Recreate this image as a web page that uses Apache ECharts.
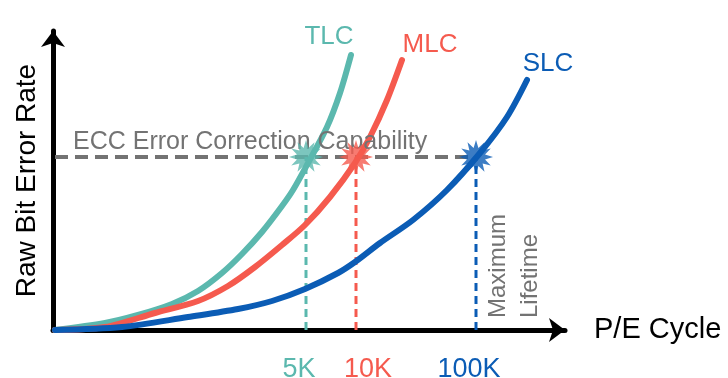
<!DOCTYPE html>
<html>
<head>
<meta charset="utf-8">
<script src="https://cdn.jsdelivr.net/npm/echarts@6/dist/echarts.min.js"></script>
<style>html,body{margin:0;padding:0;background:#fff}#main{width:728px;height:378px}</style>
</head>
<body>
<div id="main"></div>
<script>
// curve data (x = P/E position, y = error rate, arbitrary units)
var cellNames = ['TLC', 'MLC', 'SLC'];
var tickLabels = ['5K', '10K', '100K'];
var lifetimeX = [253, 303, 423];
var eccLevel = 173;
var eccEndX = 423;
var tlcCurve = [[2, 0], [52, 7], [85, 15], [119, 26], [145, 39], [169, 57], [189, 76], [209, 98], [229, 124], [240, 140], [255, 167], [274, 203], [287, 237], [298, 275]];
var mlcCurve = [[2, 0], [52, 3], [102, 17], [145, 29], [175, 44], [202, 63], [229, 85], [252, 105], [277, 133], [302, 167], [317, 193], [334, 230], [349, 270]];
var slcCurve = [[2, 0], [69, 3], [135, 13], [185, 21], [219, 29], [252, 41], [285, 57], [302, 68], [327, 87], [360, 110], [394, 140], [427, 177], [454, 213], [474, 250]];

var colors = ['#5bb8ae', '#f55a4e', '#0b5cb5'];
var gray = '#737373';
var font = 'Liberation Sans, Arial, sans-serif';

function burst(n, inner) {
    var d = '';
    for (var i = 0; i < n * 2; i++) {
        var a = Math.PI * i / n;
        var r = i % 2 ? inner : 1;
        d += (i ? 'L' : 'M') + (50 + 50 * r * Math.sin(a)).toFixed(1) + ' ' + (50 - 50 * r * Math.cos(a)).toFixed(1);
    }
    return 'path://' + d + 'Z';
}
var starSymbol = burst(12, 0.55);

var myChart = echarts.init(document.getElementById('main'));

var curves = [tlcCurve, mlcCurve, slcCurve];
var labelCoords = [[276, 293], [377, 285], [495, 266]];
var series = [];

// ECC threshold line
series.push({
    type: 'line',
    data: [[2, eccLevel], [eccEndX, eccLevel]],
    symbol: 'none',
    lineStyle: { color: gray, width: 4, type: [13, 7] },
    markPoint: {
        symbolSize: 0,
        data: [
            { coord: [20, 188], label: { show: true, formatter: 'ECC Error Correction Capability', align: 'left', color: gray, fontSize: 25, fontFamily: font } },
            { coord: [445, 12], label: { show: true, formatter: 'Maximum', rotate: 90, align: 'left', verticalAlign: 'middle', color: gray, fontSize: 24, fontFamily: font } },
            { coord: [477, 12], label: { show: true, formatter: 'Lifetime', rotate: 90, align: 'left', verticalAlign: 'middle', color: gray, fontSize: 24, fontFamily: font } }
        ]
    },
    z: 1
});

// dashed drop lines to the lifetime ticks
lifetimeX.forEach(function (x, i) {
    series.push({
        type: 'line',
        data: [[x, 0], [x, eccLevel]],
        symbol: 'none',
        lineStyle: { color: colors[i], width: 3, type: [8, 5] },
        z: 2
    });
});

curves.forEach(function (c, i) {
    series.push({
        name: cellNames[i],
        type: 'line',
        data: c,
        smooth: 0.3,
        symbol: 'none',
        lineStyle: { color: colors[i], width: 6, cap: 'round', join: 'round' },
        markPoint: {
            symbolSize: 0,
            data: [{ coord: labelCoords[i], label: { show: true, formatter: cellNames[i], color: colors[i], fontSize: 26, fontFamily: font } }]
        },
        z: 3
    });
});

series.push({
    type: 'scatter',
    data: lifetimeX.map(function (x) { return [x, eccLevel]; }),
    symbol: starSymbol,
    symbolSize: 34,
    itemStyle: {
        color: function (p) { return colors[p.dataIndex]; }
    },
    z: 5
});

var rich = {
    c0: { color: colors[0], padding: [0, 14, 0, 0] },
    c1: { color: colors[1], padding: [0, 0, 0, 24] },
    c2: { color: colors[2], padding: [0, 14, 0, 0] }
};
Object.keys(rich).forEach(function (k) { rich[k].fontSize = 27; rich[k].fontFamily = font; });

var option = {
    animation: false,
    grid: { left: 53, right: 163, top: 31, bottom: 48, outerBoundsMode: 'none' },
    xAxis: {
        type: 'value',
        min: 0,
        max: 512,
        name: 'P/E Cycle',
        nameLocation: 'end',
        nameGap: 29,
        nameTextStyle: { color: '#000', fontSize: 29, fontFamily: font, padding: [18, 0, 0, 0] },
        splitLine: { show: false },
        axisTick: { show: false },
        axisLine: { lineStyle: { color: '#000', width: 5 }, symbol: ['none', 'arrow'], symbolSize: [18, 16] },
        axisLabel: {
            customValues: lifetimeX,
            margin: 26,
            formatter: function (v) {
                var i = lifetimeX.indexOf(v);
                return '{c' + i + '|' + tickLabels[i] + '}';
            },
            rich: rich
        }
    },
    yAxis: {
        type: 'value',
        min: 0,
        max: 299,
        name: 'Raw Bit Error Rate',
        nameLocation: 'middle',
        nameRotate: 90,
        nameGap: 12,
        nameTextStyle: { color: '#000', fontSize: 28, fontFamily: font },
        splitLine: { show: false },
        axisTick: { show: false },
        axisLabel: { show: false },
        axisLine: { lineStyle: { color: '#000', width: 5 }, symbol: ['none', 'arrow'], symbolSize: [18, 16] }
    },
    series: series
};

myChart.setOption(option);
</script>
</body>
</html>
